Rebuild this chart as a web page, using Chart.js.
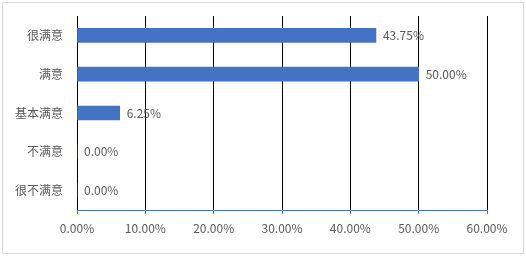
<!DOCTYPE html>
<html>
<head>
<meta charset="utf-8">
<script src="https://cdn.jsdelivr.net/npm/chart.js@4"></script>
<style>
  body { margin: 0; background: #fff; }
  #wrap { position: relative; width: 526px; height: 256px; }
  #frame { position: absolute; left: 2px; top: 2px; width: 520px; height: 250px; border: 1px solid #d9d9d9; }
</style>
</head>
<body>
<div id="wrap">
  <div id="frame"></div>
  <canvas id="barChart" width="526" height="256"></canvas>
</div>
<script>
// categories and values
const categories = ['很满意', '满意', '基本满意', '不满意', '很不满意'];
const shares = [43.75, 50.00, 6.25, 0, 0];
const axisTicks = [0, 10, 20, 30, 40, 50, 60];

const textFont = '"Noto Sans CJK SC", "DejaVu Sans", sans-serif';

// value labels at the end of each bar
const valueLabels = {
    id: 'valueLabels',
    afterDatasetsDraw(chart) {
        const ctx = chart.ctx;
        const meta = chart.getDatasetMeta(0);
        ctx.save();
        ctx.font = '12px ' + textFont;
        ctx.fillStyle = '#595959';
        ctx.textAlign = 'left';
        ctx.textBaseline = 'middle';
        meta.data.forEach((bar, i) => {
            ctx.fillText(shares[i].toFixed(2) + '%', bar.x + 7, bar.y);
        });
        ctx.restore();
    }
};

document.addEventListener("DOMContentLoaded", () => {
    new Chart(document.querySelector('#barChart'), {
        type: 'bar',
        data: {
            labels: categories,
            datasets: [{
                label: 'share',
                data: shares,
                backgroundColor: '#4472C4',
                barThickness: 14
            }]
        },
        options: {
            indexAxis: 'y',
            responsive: false,
            animation: false,
            layout: { padding: { top: 16, right: 39, left: 0, bottom: 0 } },
            plugins: { legend: { display: false }, tooltip: { enabled: false } },
            scales: {
                x: {
                    min: 0,
                    max: 60,
                    afterBuildTicks: scale => { scale.ticks = axisTicks.map(v => ({ value: v })); },
                    afterFit: scale => { scale.height = 46; },
                    grid: { color: '#000000', tickColor: '#4472C4', tickLength: 4, lineWidth: 1 },
                    border: { color: '#4472C4', width: 1 },
                    ticks: {
                        color: '#595959',
                        font: { size: 12, family: textFont },
                        padding: 7,
                        maxRotation: 0,
                        callback: v => v.toFixed(2) + '%'
                    }
                },
                y: {
                    afterFit: scale => { scale.width = 77; },
                    grid: { display: false },
                    border: { display: false },
                    ticks: {
                        color: '#595959',
                        font: { size: 12, family: textFont },
                        padding: 6
                    }
                }
            }
        },
        plugins: [valueLabels]
    });
});
</script>
</body>
</html>
